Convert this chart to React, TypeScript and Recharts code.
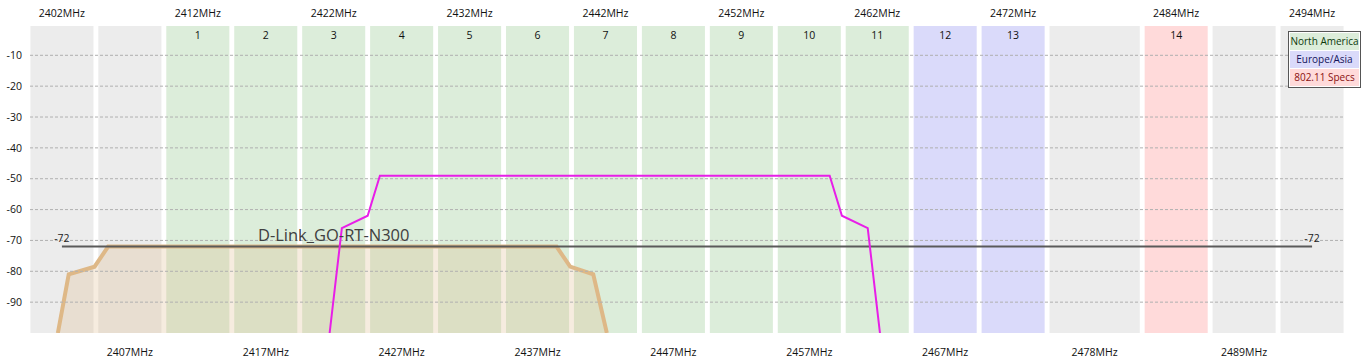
import {
  Area,
  ComposedChart,
  Legend,
  Line,
  ReferenceArea,
  ReferenceDot,
  ReferenceLine,
  XAxis,
  YAxis,
} from "recharts"

// frequency axis labels (MHz)
const TOP_TICKS = [2402, 2412, 2422, 2432, 2442, 2452, 2462, 2472, 2484, 2494]
const BOTTOM_TICKS = [2407, 2417, 2427, 2437, 2447, 2457, 2467, 2478, 2489]
const DB_TICKS = [-10, -20, -30, -40, -50, -60, -70, -80, -90]

// channel slots: edges, channel number, regulatory region
const SLOT_EDGES = [
  2399.5, 2404.5, 2409.5, 2414.5, 2419.5, 2424.5, 2429.5, 2434.5, 2439.5, 2444.5,
  2449.5, 2454.5, 2459.5, 2464.5, 2469.5, 2474.5, 2481.5, 2486.5, 2491.5, 2496.5,
]
const SLOT_CHANNELS = ["", "", "1", "2", "3", "4", "5", "6", "7", "8", "9", "10", "11", "12", "13", "", "14", "", ""]
const SLOT_REGIONS = [
  "none", "none", "na", "na", "na", "na", "na", "na", "na", "na", "na", "na", "na",
  "eu", "eu", "none", "spec", "none", "none",
]

const REGION_NAMES = ["North America", "Europe/Asia", "802.11 Specs"]

// networks
const DLINK_SSID = "D-Link_GO-RT-N300"
const DLINK_CENTER = 2422
const DLINK_FREQ = [2401.7, 2402.5, 2404.4, 2405.4, 2438.4, 2439.4, 2441.1, 2442.1]
const DLINK_DBM = [-100, -81, -78.5, -72, -72, -78.5, -81, -100]

const OTHER_FREQ = [2421.7, 2422.6, 2424.5, 2425.4, 2458.5, 2459.4, 2461.3, 2462.2]
const OTHER_DBM = [-100, -66, -62, -49, -49, -62, -66, -100]

const THRESHOLD_FREQ = [2402, 2494]
const THRESHOLD_DBM = -72

const FONT = "'Open Sans', sans-serif"
const GAP = 0.18
const BG: Record<string, string> = {
  none: "#ececec",
  na: "#dcedda",
  eu: "#dadafa",
  spec: "#ffdada",
}
const REGION_BG = [BG.na, BG.eu, BG.spec]
const REGION_TEXT = ["#0d3a0d", "#14145a", "#8a1010"]
const TAN = "#deb887"
const MAGENTA = "#e81ee8"
const TICK = { fill: "#111", fontSize: 10.5, fontFamily: FONT }

const dlink = DLINK_FREQ.map((f, i) => ({ f, v: DLINK_DBM[i] }))
const other = OTHER_FREQ.map((f, i) => ({ f, v: OTHER_DBM[i] }))
const threshold = THRESHOLD_FREQ.map((f) => ({ f, v: THRESHOLD_DBM }))

function LegendBox() {
  return (
    <div
      style={{
        border: "1px solid #555",
        background: "#fff",
        padding: 1,
        width: 69,
        fontFamily: FONT,
      }}
    >
      {REGION_NAMES.map((r, i) => (
        <div
          key={r}
          style={{
            background: REGION_BG[i],
            color: REGION_TEXT[i],
            fontSize: 10,
            lineHeight: "17px",
            textAlign: "center",
            marginBottom: i < REGION_NAMES.length - 1 ? 1 : 0,
          }}
        >
          {r}
        </div>
      ))}
    </div>
  )
}

export default function App() {
  return (
    <div style={{ position: "absolute", left: 0, top: 0 }}>
      <ComposedChart width={1368} height={364} margin={{ top: 0, right: 24, bottom: 0, left: 0 }}>
        <XAxis
          xAxisId="b"
          type="number"
          dataKey="f"
          domain={[2399.65, 2496.35]}
          allowDataOverflow
          ticks={BOTTOM_TICKS}
          interval={0}
          height={31}
          axisLine={false}
          tickLine={false}
          tickMargin={10}
          tick={TICK}
          tickFormatter={(v: number) => `${v}MHz`}
        />
        <XAxis
          xAxisId="t"
          orientation="top"
          type="number"
          dataKey="f"
          domain={[2399.65, 2496.35]}
          allowDataOverflow
          ticks={TOP_TICKS}
          interval={0}
          height={26}
          axisLine={false}
          tickLine={false}
          tickMargin={3}
          tick={TICK}
          tickFormatter={(v: number) => `${v}MHz`}
        />
        <YAxis
          type="number"
          domain={[-100, -0.5]}
          allowDataOverflow
          ticks={DB_TICKS}
          interval={0}
          width={30}
          axisLine={false}
          tickLine={false}
          tick={TICK}
        />

        {SLOT_CHANNELS.map((ch, i) => (
          <ReferenceArea
            key={`slot-${i}`}
            xAxisId="b"
            x1={SLOT_EDGES[i] + GAP}
            x2={SLOT_EDGES[i + 1] - GAP}
            fill={BG[SLOT_REGIONS[i]]}
            fillOpacity={1}
            stroke="none"
            label={
              ch
                ? { value: ch, position: "insideTop", offset: 6, fill: "#111", fontSize: 10.5, fontFamily: FONT }
                : undefined
            }
          />
        ))}

        {DB_TICKS.map((t) => (
          <ReferenceLine key={`grid-${t}`} xAxisId="b" y={t} stroke="#b0b0b0" strokeDasharray="3 2" />
        ))}

        <Line
          xAxisId="b"
          data={threshold}
          dataKey="v"
          stroke="#5a5a5a"
          strokeWidth={2}
          dot={false}
          isAnimationActive={false}
          label={{ position: "top", fill: "#222", fontSize: 10.5, fontFamily: FONT }}
        />
        <Area
          xAxisId="b"
          data={dlink}
          dataKey="v"
          type="linear"
          baseValue="dataMin"
          stroke={TAN}
          strokeWidth={4}
          fill={TAN}
          fillOpacity={0.27}
          dot={false}
          isAnimationActive={false}
        />
        <Line
          xAxisId="b"
          data={other}
          dataKey="v"
          type="linear"
          stroke={MAGENTA}
          strokeWidth={2}
          dot={false}
          isAnimationActive={false}
        />
        <ReferenceDot
          xAxisId="b"
          x={DLINK_CENTER}
          y={THRESHOLD_DBM}
          r={1}
          fill="none"
          stroke="none"
          ifOverflow="visible"
          label={{ value: DLINK_SSID, position: "top", offset: 5, fill: "#404040", fontSize: 16.5, fontFamily: FONT }}
        />

        <Legend
          layout="horizontal"
          verticalAlign="middle"
          align="center"
          content={<LegendBox />}
          wrapperStyle={{ left: 1288, top: 31, width: 73 }}
        />
      </ComposedChart>
    </div>
  )
}
